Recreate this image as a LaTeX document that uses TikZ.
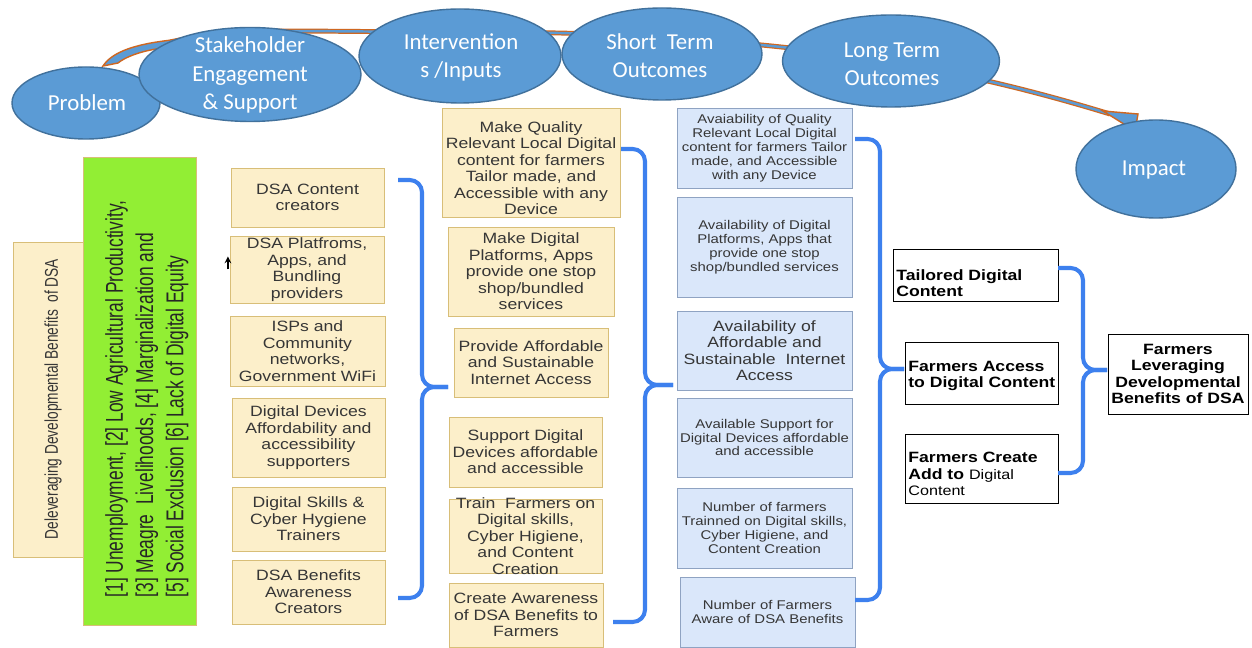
\documentclass[tikz,border=0pt]{standalone}
\usepackage{fontspec}
\setmainfont{Liberation Sans}
\newfontfamily\boxfont{Liberation Sans}[FakeStretch=1.18]
\newfontfamily\ovalfont{Carlito}
\usetikzlibrary{shapes.geometric}

\definecolor{ovalfill}{HTML}{5B9BD5}
\definecolor{ovalrim}{HTML}{41719C}
\definecolor{tanfill}{HTML}{FCEFCA}
\definecolor{tanrim}{HTML}{D8BE78}
\definecolor{bluefill}{HTML}{DAE7FA}
\definecolor{bluerim}{HTML}{8FA3C2}
\definecolor{limefill}{HTML}{92EE34}
\definecolor{bracecol}{HTML}{3D80EE}
\definecolor{arrowrim}{HTML}{CF6720}
\definecolor{inktext}{HTML}{363636}

% curly bracket: top arm x, bottom arm x, spine x, tip x, top y, middle y, bottom y
\newcommand{\curly}[7]{%
    \draw[brace] (#1,#5) -| (#3,#6) -- (#4,#6);
    \draw[brace] (#2,#7) -| (#3,#6) -- (#4,#6);}

\begin{document}
\begin{tikzpicture}[x=0.02cm, y=-0.02cm,
    size/.style 2 args={minimum width=#1*0.02cm, minimum height=#2*0.02cm},
    oval/.style={ellipse, draw=ovalrim, fill=ovalfill, line width=0.8pt, inner sep=0pt},
    ovaltext/.style={text=white, align=center, font=\ovalfont\fontsize{13}{16}\selectfont},
    tanbox/.style={rectangle, draw=tanrim, fill=tanfill, text=inktext, align=center, inner sep=1pt, font=\boxfont\fontsize{8.5}{9.4}\selectfont},
    bluebox/.style={rectangle, draw=bluerim, fill=bluefill, text=inktext, align=center, inner sep=1pt, font=\boxfont\fontsize{7.2}{7.9}\selectfont},
    whitebox/.style={rectangle, draw=black, fill=white, inner sep=1pt},
    boldtext/.style={align=left, inner sep=0pt, font=\boxfont\bfseries\fontsize{8.5}{9.3}\selectfont},
    brace/.style={draw=bracecol, line width=2.3pt, rounded corners=7pt},
    band/.style={draw=arrowrim, fill=ovalfill, line width=0.8pt},
    ]
    \useasboundingbox[fill=white] (0,0) rectangle (1252,648);

    % long curved arrow behind the ovals
    \draw[band] (103,66) .. controls (112,52) and (135,44) .. (172,40) -- (176,47)
        .. controls (150,48) and (128,55) .. (118,63) -- cycle;
    \draw[arrowrim, double=ovalfill, double distance=1.4pt, line width=0.7pt]
        (170,42) .. controls (210,33) and (250,31) .. (300,31) -- (560,33)
        .. controls (800,40) and (950,65) .. (1110,114);
    \draw[band] (1103,111) -- (1138,114) -- (1135,131) -- cycle;

    % top row
    \node[oval, size={148}{72}] (prob) at (86,103) {};
    \node[oval, size={222}{94}] (stake) at (250,74.5) {};
    \node[oval, size={202}{94}] (inter) at (460,56) {};
    \node[oval, size={200}{92}] (short) at (662,54) {};
    \node[oval, size={217}{92}] (long) at (891,61) {};
    \node[oval, size={160}{98}] (impact) at (1156,169) {};
    \node[ovaltext] (prob-t) at (87,103) {Problem};
    \node[ovaltext] (stake-t) at (250,75) {Stakeholder\\Engagement\\\& Support};
    \node[ovaltext] (inter-t) at (461,57.5) {Intervention\\s /Inputs};
    \node[ovaltext] (short-t) at (660,56) {Short\ \ Term\\Outcomes};
    \node[ovaltext] (long-t) at (892,64) {Long Term\\Outcomes};
    \node[ovaltext] (impact-t) at (1154,170) {Impact};

    % problem
    \node[tanbox, size={70}{315}] (side) at (48,399.5) {};
    \node[rotate=90, text=inktext, font=\fontsize{7.8}{9}\selectfont] (side-t) at (53,399)
        {\scalebox{1}[1.35]{Deleveraging Developmental Benefits\ \ of DSA}};
    \node[draw=tanrim, fill=limefill, size={113}{468}] (probbox) at (139.5,391) {};
    \node[rotate=90, text=inktext!70!black, font=\fontsize{9.9}{12.3}\selectfont] (probs) at (147,399)
        {\scalebox{1}[1.4]{\begin{tabular}{@{}l@{}}
        [1] Unemployment, [2] Low Agricultural Productivity,\\
        {[3]} Meagre\ \ Livelihoods, [4] Marginalization and\\
        {[5]} Social Exclusion [6] Lack of Digital Equity
        \end{tabular}}};

    % stakeholders
    \node[tanbox, size={153}{59}] (creators) at (307.5,197.5) {DSA Content\\creators};
    \node[tanbox, size={154}{65}] (platforms) at (307,269.5) {DSA Platfroms,\\Apps, and\\Bundling\\providers};
    \node[tanbox, size={155}{70}] (isps) at (307.5,351) {ISPs and\\Community\\networks,\\Government WiFi};
    \node[tanbox, size={153}{79}] (devices) at (308.5,437.5) {Digital Devices\\Affordability and\\accessibility\\supporters};
    \node[tanbox, size={153}{64}] (trainers) at (308.5,519) {Digital Skills \&\\Cyber Hygiene\\Trainers};
    \node[tanbox, size={153}{64}] (aware) at (308.5,592) {DSA Benefits\\Awareness\\Creators};
    \draw[-stealth, line width=0.7pt] ([xshift=-1pt]platforms.west) -- ++(0,-13);

    % interventions
    \node[tanbox, size={178}{109}] (content) at (531,162.5) {};
    \node[tanbox, draw=none, fill=none] (content-t) at (531,168) {Make Quality\\Relevant Local Digital\\content for farmers\\Tailor made, and\\Accessible with any\\Device};
    \node[tanbox, size={166}{89}] (apps) at (531,271.5) {Make Digital\\Platforms, Apps\\provide one stop\\shop/bundled\\services};
    \node[tanbox, size={154}{69}] (internet) at (531,362.5) {Provide Affordable\\and Sustainable\\Internet Access};
    \node[tanbox, size={153}{70}] (support) at (525.5,452) {Support Digital\\Devices affordable\\and accessible};
    \node[tanbox, size={153}{74}] (train) at (525.5,536) {};
    \node[tanbox, draw=none, fill=none] (train-t) at (525.5,536) {Train\ \ Farmers on\\Digital skills,\\Cyber Higiene,\\and Content\\Creation};
    \node[tanbox, size={154}{64}] (awareness) at (526,615) {Create Awareness\\of DSA Benefits to\\Farmers};

    % short term outcomes
    \node[bluebox, size={175}{80}] (o-content) at (764.5,148) {Avaiability of Quality\\Relevant Local Digital\\content for farmers Tailor\\made, and Accessible\\with any Device};
    \node[bluebox, size={175}{100}] (o-apps) at (764.5,247) {Availability of Digital\\Platforms, Apps that\\provide one stop\\shop/bundled services};
    \node[bluebox, size={175}{79}, font=\boxfont\fontsize{8.5}{9.4}\selectfont] (o-internet) at (764.5,350.5) {Availability of\\Affordable and\\Sustainable\ \ Internet\\Access};
    \node[bluebox, size={175}{79}] (o-devices) at (764.5,437.5) {Available Support for\\Digital Devices affordable\\and accessible};
    \node[bluebox, size={175}{80}] (o-skills) at (764.5,528) {Number of farmers\\Trainned on Digital skills,\\Cyber Higiene, and\\Content Creation};
    \node[bluebox, size={175}{70}, font=\boxfont\fontsize{7.2}{8.5}\selectfont] (o-aware) at (767.5,612) {Number of Farmers\\Aware of DSA Benefits};

    % long term outcomes and impact
    \node[whitebox, size={165}{52}] (tailored) at (975.5,275) {};
    \node[whitebox, size={153}{62}] (access) at (981.5,373) {};
    \node[whitebox, size={153}{69}] (create) at (981.5,468.5) {};
    \node[boldtext, anchor=west] (tailored-t) at (896,283) {Tailored Digital\\Content};
    \node[boldtext, anchor=west] (access-t) at (908,376) {Farmers Access\\to Digital Content};
    \node[boldtext, anchor=west] (create-t) at (908,474) {Farmers Create\\Add to {\mdseries\fontsize{7.8}{7.6}\selectfont Digital}\\{\mdseries\fontsize{7.8}{7.6}\selectfont Content}};
    \node[whitebox, size={140}{80}, boldtext, align=center] (leverage) at (1178,374) {Farmers\\Leveraging\\Developmental\\Benefits of DSA};

    % brackets between the columns
    \curly{398}{398}{422}{448}{180}{387}{598}
    \curly{621}{613}{645}{673}{149}{385}{622}
    \curly{855}{855}{880}{904}{139}{369}{600}
    \curly{1058}{1058}{1083}{1107}{268}{370}{473}
\end{tikzpicture}
\end{document}
